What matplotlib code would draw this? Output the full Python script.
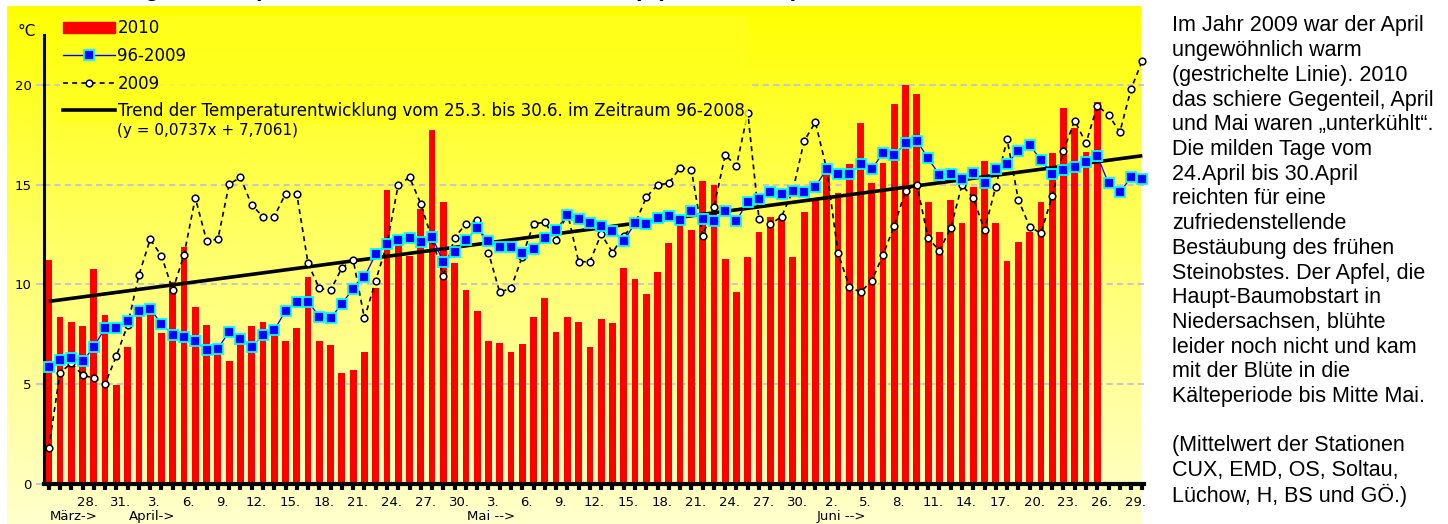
import numpy as np
import matplotlib
matplotlib.use('Agg')
import matplotlib.pyplot as plt
import matplotlib.transforms as mtransforms
from matplotlib.colors import LinearSegmentedColormap
from matplotlib.lines import Line2D
from matplotlib.patches import Patch

W, H = 1448, 524

# Tagesmittel, Tag 0 = 25. März
t2010 = [11.23, 8.39, 8.1, 7.9, 10.75, 8.47, 4.97, 6.87, 8.4, 8.6,
         7.55, 10.1, 11.88, 8.88, 7.98, 6.5, 6.15, 7.0, 7.9, 8.1,
         7.45, 7.15, 7.82, 10.37, 7.15, 6.95, 5.55, 5.73, 6.6, 9.8,
         14.72, 11.98, 11.45, 13.77, 17.74, 14.15, 11.06, 9.72, 8.69, 7.18,
         7.08, 6.63, 7.0, 8.39, 9.34, 7.64, 8.39, 8.1, 6.87, 8.26,
         8.07, 10.82, 10.27, 9.51, 10.63, 12.06, 13.0, 12.71, 15.17, 14.99,
         11.3, 9.6, 11.38, 12.63, 13.38, 13.27, 11.38, 13.65, 14.24, 15.85,
         14.57, 16.02, 18.1, 15.07, 16.1, 19.05, 19.98, 19.53, 14.12, 12.61,
         14.22, 13.1, 14.9, 16.2, 13.1, 11.19, 12.15, 12.61, 14.12, 16.57,
         18.85, 17.83, 16.66, 19.13]

t9609 = [5.85, 6.23, 6.32, 6.14, 6.87, 7.82, 7.82, 8.18, 8.67, 8.77,
         8.03, 7.46, 7.35, 7.16, 6.7, 6.78, 7.64, 7.25, 6.87, 7.46,
         7.7, 8.68, 9.14, 9.14, 8.39, 8.3, 9.04, 9.79, 10.37, 11.52,
         12.01, 12.24, 12.35, 12.15, 12.4, 11.1, 11.64, 12.23, 12.82, 12.18,
         11.87, 11.87, 11.56, 11.76, 12.35, 12.73, 13.48, 13.29, 13.1, 12.95,
         12.7, 12.18, 13.07, 13.02, 13.32, 13.43, 13.23, 13.68, 13.28, 13.2,
         13.68, 13.2, 14.15, 14.27, 14.62, 14.54, 14.69, 14.62, 14.9, 15.79,
         15.54, 15.55, 16.05, 15.77, 16.61, 16.49, 17.08, 17.19, 16.32, 15.49,
         15.54, 15.27, 15.57, 15.1, 15.77, 16.04, 16.71, 16.99, 16.24, 15.54,
         15.74, 15.91, 16.12, 16.44, 15.07, 14.62, 15.37, 15.27]

t2009 = [1.79, 5.58, 6.05, 5.46, 5.3, 5.01, 6.42, 7.97, 10.48, 12.26,
         11.43, 9.72, 11.48, 14.34, 12.2, 12.26, 15.02, 15.37, 13.98, 13.4,
         13.4, 14.54, 14.54, 11.06, 9.8, 9.7, 10.83, 11.25, 8.3, 10.19,
         12.03, 14.99, 15.37, 14.04, 12.26, 10.44, 12.35, 13.03, 13.23, 11.6,
         9.61, 9.81, 11.4, 13.03, 13.12, 12.23, 13.6, 11.14, 11.14, 12.53,
         11.6, 12.45, 13.03, 14.37, 14.99, 15.07, 15.86, 15.74, 12.45, 13.87,
         16.49, 15.94, 18.61, 13.27, 13.02, 13.4, 14.7, 17.19, 18.13, 15.77,
         11.6, 9.89, 9.61, 10.19, 11.48, 12.95, 14.7, 15.0, 12.31, 11.7,
         12.82, 14.99, 14.32, 12.73, 14.9, 17.28, 14.24, 12.9, 12.56, 14.44,
         16.71, 18.21, 17.08, 18.95, 18.5, 17.63, 19.8, 21.22]

trend_days = [0, 97]
trend_vals = [9.15, 16.45]

tick_days = list(range(3, 97, 3))
tick_labels = ["28.", "31.", "3.", "6.", "9.", "12.", "15.", "18.", "21.", "24.",
               "27.", "30.", "3.", "6.", "9.", "12.", "15.", "18.", "21.", "24.",
               "27.", "30.", "2.", "5.", "8.", "11.", "14.", "17.", "20.", "23.",
               "26.", "29."]
month_days = [0, 7, 37, 68]
month_labels = ["März->", "April->", "Mai -->", "Juni -->"]

side_text = ["Im Jahr 2009 war der April",
             "ungewöhnlich warm",
             "(gestrichelte Linie). 2010",
             "das schiere Gegenteil, April",
             "und Mai waren \u201eunterkühlt\u201c.",
             "Die milden Tage vom",
             "24.April bis 30.April",
             "reichten für eine",
             "zufriedenstellende",
             "Bestäubung des frühen",
             "Steinobstes. Der Apfel, die",
             "Haupt-Baumobstart in",
             "Niedersachsen, blühte",
             "leider noch nicht und kam",
             "mit der Blüte in die",
             "Kälteperiode bis Mitte Mai.",
             "",
             "(Mittelwert der Stationen",
             "CUX, EMD, OS, Soltau,",
             "Lüchow, H, BS und GÖ.)"]

fig = plt.figure(figsize=(W / 100, H / 100), dpi=100)

# gelber Verlauf hinter dem Diagramm
bg = fig.add_axes([7 / W, 0, 1134 / W, 518 / H])
grad = np.linspace(0, 1, 256)[:, None]
cmap = LinearSegmentedColormap.from_list('gelb', ['#ffff00', '#ffff70', '#ffffcc'])
bg.imshow(grad, aspect='auto', cmap=cmap, extent=(0, 1, 0, 1), origin='upper')
bg.axis('off')

ax = fig.add_axes([44 / W, 40 / H, 1099.5 / W, 449 / H])
ax.set_facecolor('none')
ax.set_xlim(-0.42, 97.1)
ax.set_ylim(0, 22.5)

days = np.arange(len(t2009))
ax.bar(np.arange(len(t2010)), t2010, width=0.6, color='#ff0000', zorder=2)
ax.plot(trend_days, trend_vals, color='black', lw=2.6, zorder=3,
        solid_capstyle='butt', clip_on=False)
ax.plot(days, t2009, color='black', ls=(0, (3, 2.5)), lw=1.2, marker='o', ms=4.8,
        mfc='white', mec='black', mew=1.1, zorder=4, clip_on=False)
ax.plot(days, t9609, color='#0000ff', lw=0.9, marker='s', ms=6.5,
        mfc='#0000ff', mec='#00ffff', mew=1.3, zorder=5, clip_on=False)

ax.set_yticks([0, 5, 10, 15, 20])
ax.grid(axis='y', color='#c8c8c8', linestyle=(0, (3, 2)), lw=1.5)
ax.set_axisbelow(True)
ax.tick_params(axis='y', length=6, width=1.5, color='#c8c8c8', pad=3,
               labelsize=9.5)

ax.set_xticks(np.array(tick_days) + 0.4)
ax.set_xticklabels(tick_labels)
ax.set_xticks(days, minor=True)
ax.tick_params(axis='x', which='major', length=0, pad=9, labelsize=9.5)
ax.tick_params(axis='x', which='minor', length=4, width=3, color='black')

for s in ['top', 'right']:
    ax.spines[s].set_visible(False)
ax.spines['left'].set_linewidth(2.2)
ax.spines['bottom'].set_linewidth(3)

trans = mtransforms.blended_transform_factory(ax.transData, ax.transAxes)
for d, lab in zip(month_days, month_labels):
    ax.text(d + 0.1, -0.072, lab, transform=trans, ha='left', va='center',
            fontsize=9.5)

fig.text(27 / W, 1 - 31 / H, '°C', fontsize=11, ha='center', va='center')

handles = [Patch(facecolor='#ff0000', edgecolor='#ff0000'),
           Line2D([], [], color='#0000ff', lw=1, marker='s', ms=6.5,
                  mfc='#0000ff', mec='#00ffff', mew=1.3),
           Line2D([], [], color='black', ls=(0, (3, 2.5)), lw=1.2, marker='o',
                  ms=4.8, mfc='white', mec='black', mew=1.1),
           Line2D([], [], color='black', lw=2.6)]
labels = ['2010', '96-2009', '2009',
          'Trend der Temperaturentwicklung vom 25.3. bis 30.6. im Zeitraum 96-2008']
leg = ax.legend(handles, labels, loc='upper left',
                bbox_to_anchor=(60 / W, 1 - 16 / H), bbox_transform=fig.transFigure,
                fontsize=12, handlelength=3.1, handletextpad=0.15,
                labelspacing=0.58, borderpad=0.2, borderaxespad=0,
                frameon=True, fancybox=False)
leg.get_frame().set_facecolor('#ffff1e')
leg.get_frame().set_edgecolor('none')
leg.set_zorder(6)
fig.text(117 / W, 1 - 131 / H, '(y = 0,0737x + 7,7061)', fontsize=11,
         ha='left', va='center', zorder=7)

# Überschrift, im Original oben abgeschnitten
fig.text(20 / W, 1 + 4 / H,
         'Entwicklung der Temperaturen in Niedersachsen 2010 (April bis Juni)',
         fontsize=17, fontweight='bold', family='Liberation Sans',
         ha='left', va='baseline')

for k, line in enumerate(side_text):
    fig.text(1172 / W, 1 - (26 + k * 24.7) / H, line, fontsize=15.5,
             family='Liberation Sans', ha='left', va='center')

fig.savefig('out.png', dpi=100)
